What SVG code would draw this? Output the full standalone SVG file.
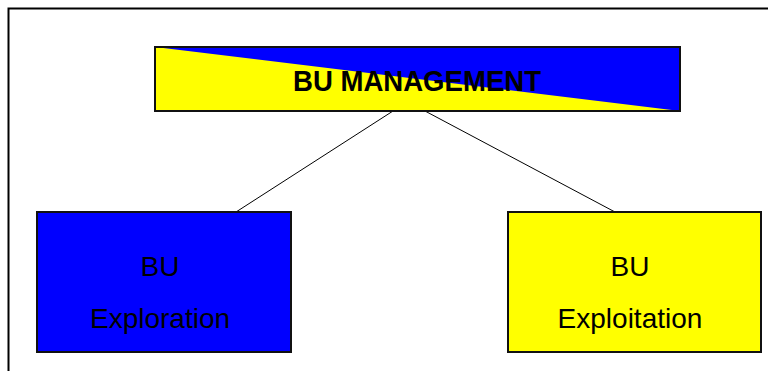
<svg xmlns="http://www.w3.org/2000/svg" width="768" height="371" viewBox="0 0 768 371">
<style>
.box{stroke:#111;stroke-width:2}
.t{font-family:"Liberation Sans",Arial,sans-serif;fill:#000;text-anchor:middle}
</style>
<rect width="768" height="371" fill="#fff"/>
<path d="M8.5 371V8.5H768" fill="none" stroke="#000" stroke-width="2"/>
<g id="connectors" stroke="#000" stroke-width="1">
<line x1="393" y1="111" x2="236" y2="212"/>
<line x1="425" y1="111" x2="615" y2="212"/>
</g>
<g id="management">
<rect x="155" y="47" width="525" height="64" fill="#ff0"/>
<polygon points="155,47 680,47 680,111" fill="#00f"/>
<rect x="155" y="47" width="525" height="64" fill="none" class="box"/>
<text class="t" x="417" y="91" font-size="29" font-weight="bold" textLength="248" lengthAdjust="spacingAndGlyphs">BU MANAGEMENT</text>
</g>
<g id="exploration">
<rect x="37" y="212" width="254" height="140" fill="#00f" class="box"/>
<text class="t" x="160" y="276" font-size="28">BU</text>
<text class="t" x="160" y="328" font-size="28">Exploration</text>
</g>
<g id="exploitation">
<rect x="508" y="212" width="253" height="140" fill="#ff0" class="box"/>
<text class="t" x="630" y="276" font-size="28">BU</text>
<text class="t" x="630" y="328" font-size="28">Exploitation</text>
</g>
</svg>
